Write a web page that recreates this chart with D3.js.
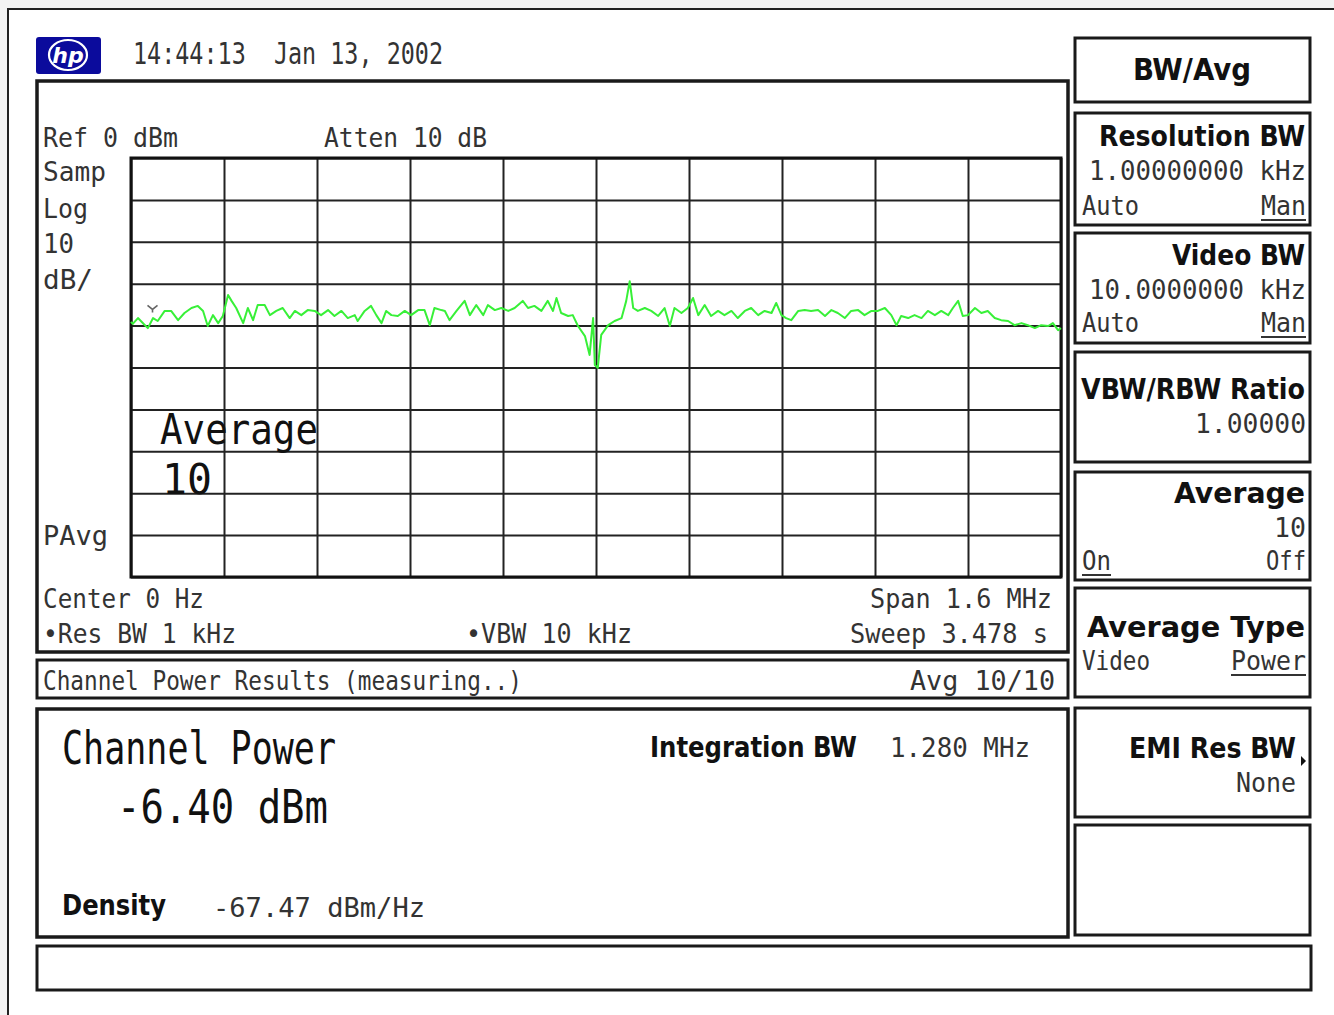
<!DOCTYPE html>
<html><head><meta charset="utf-8">
<script src="https://cdn.jsdelivr.net/npm/d3@7"></script>
<style>
html,body{margin:0;padding:0;background:#f3f3f3;}
svg{display:block;}
text{white-space:pre;}
</style></head>
<body>
<svg id="c" width="1334" height="1015"></svg>
<script>
// ---------- data ----------
const spanKHz = [-800, 800];          // Center 0 Hz, Span 1.6 MHz
const refLevelDbm = [-100, 0];        // Ref 0 dBm, 10 dB/div
const xGridKHz = [-800,-640,-480,-320,-160,0,160,320,480,640,800];
const yGridDbm = [0,-10,-20,-30,-40,-50,-60,-70,-80,-90,-100];
const traceFreqKHz = [-800,-797,-788,-776,-771,-762,-754,-742,-731,-719,-708,-696,-685,-676,-668,-659,-650,-642,-633,-627,-619,-607,-599,-590,-582,-570,-561,-550,-539,-527,-518,-507,-496,-484,-473,-461,-450,-438,-427,-415,-410,-398,-387,-378,-369,-361,-352,-341,-329,-318,-306,-295,-286,-278,-266,-260,-252,-240,-226,-217,-206,-194,-186,-174,-163,-151,-140,-126,-117,-106,-94,-83,-74,-68,-60,-48,-40,-31,-19,-11,-5,-2,3,9,21,32,44,52,58,64,72,84,95,107,118,127,135,147,158,167,176,187,198,210,221,233,244,256,267,279,290,302,310,319,327,336,348,359,370,382,394,405,416,428,439,451,462,474,485,497,508,517,525,537,548,560,571,583,594,606,614,623,631,640,652,663,674,686,697,709,720,732,743,755,766,778,786,795,800];
const traceLevelDbm = [-39.1,-39.6,-38.2,-39.9,-40.6,-38.2,-38.9,-36.5,-36.5,-38.7,-37.0,-35.8,-35.3,-36.5,-40.1,-37.5,-39.4,-37.7,-32.7,-34.1,-35.8,-39.4,-35.8,-38.7,-35.1,-35.1,-37.5,-36.5,-35.8,-38.2,-36.5,-37.5,-36.3,-36.5,-37.5,-36.3,-37.7,-36.5,-38.2,-37.5,-38.9,-36.5,-35.3,-37.5,-39.4,-36.5,-37.5,-37.7,-36.5,-37.5,-36.3,-36.3,-39.9,-35.8,-36.3,-36.5,-38.7,-36.5,-34.1,-37.5,-35.1,-37.5,-35.1,-36.3,-35.8,-36.5,-35.8,-34.1,-35.8,-35.3,-36.5,-34.1,-36.5,-33.4,-37.0,-37.7,-37.5,-40.1,-42.5,-47.0,-38.2,-49.4,-50.1,-42.2,-39.9,-38.9,-38.2,-34.1,-29.4,-35.8,-36.5,-35.8,-36.5,-37.7,-35.8,-40.1,-35.8,-37.0,-35.8,-33.4,-37.5,-35.1,-37.7,-36.5,-37.5,-36.5,-38.2,-36.5,-35.8,-37.5,-36.5,-37.0,-34.6,-37.5,-38.2,-38.7,-36.5,-36.3,-36.5,-36.3,-37.7,-36.3,-37.0,-38.2,-36.5,-36.3,-37.5,-36.5,-36.5,-35.8,-37.5,-39.9,-37.7,-38.2,-37.5,-38.2,-36.5,-37.5,-36.5,-37.5,-35.8,-34.1,-37.7,-37.5,-35.8,-37.0,-36.5,-38.2,-38.7,-38.9,-39.9,-39.4,-39.9,-40.6,-39.9,-40.1,-39.4,-41.1,-40.6];
const markerKHz = -763, markerDbm = -35.9;

const headerText = "14:44:13  Jan 13, 2002";
const leftLabels = ["Ref 0 dBm","Samp","Log","10","dB/","PAvg"];
const attenLabel = "Atten 10 dB";
const averageLabels = ["Average","10"];
const footerLeft = ["Center 0 Hz","\u2022Res BW 1 kHz"];
const footerMid = "\u2022VBW 10 kHz";
const footerRight = ["Span 1.6 MHz","Sweep 3.478 s"];
const resultsTitle = "Channel Power Results (measuring..)";
const resultsAvg = "Avg 10/10";
const channelPower = ["Channel Power","-6.40 dBm"];
const integration = ["Integration BW","1.280 MHz"];
const density = ["Density","-67.47 dBm/Hz"];
const softkeys = ["BW/Avg","Resolution BW","1.00000000 kHz","Video BW","10.0000000 kHz","VBW/RBW Ratio","1.00000","Average","10","Average Type","EMI Res BW","None"];

// ---------- drawing ----------
const svg = d3.select("#c");
const MONO = "'DejaVu Sans Mono','Liberation Mono',monospace";
const SANS = "'DejaVu Sans Condensed','DejaVu Sans','Liberation Sans',sans-serif";

function txt(x, y, s, o) {
  o = o || {};
  const t = svg.append("text").attr("x", x).attr("y", y).text(s)
    .attr("font-family", o.bold ? SANS : MONO)
    .attr("font-size", o.size || 27)
    .attr("font-weight", o.bold ? "bold" : "normal")
    .attr("fill", o.fill || (o.bold ? "#111" : "#333"))
    .attr("text-anchor", o.anchor || "start");
  if (o.len) t.attr("textLength", o.len).attr("lengthAdjust", "spacingAndGlyphs");
  if (o.underline) {
    let x0 = x, x1 = x + o.len;
    if (o.anchor === "end") { x0 = x - o.len; x1 = x; }
    svg.append("line").attr("x1", x0).attr("x2", x1).attr("y1", y + 5).attr("y2", y + 5)
      .attr("stroke", "#333").attr("stroke-width", 2);
  }
  return t;
}
function box(x0, y0, x1, y1, w) {
  svg.append("rect").attr("x", x0).attr("y", y0).attr("width", x1 - x0).attr("height", y1 - y0)
    .attr("fill", "#fff").attr("stroke", "#1a1a1a").attr("stroke-width", w || 3);
}

// outer instrument frame
svg.append("rect").attr("x", 8).attr("y", 9).attr("width", 1340).attr("height", 1020)
  .attr("fill", "#fff").attr("stroke", "#222").attr("stroke-width", 2);

// hp logo
svg.append("rect").attr("x", 36).attr("y", 37).attr("width", 65).attr("height", 37).attr("rx", 3).attr("fill", "#0b0b9c");
svg.append("ellipse").attr("cx", 68).attr("cy", 55).attr("rx", 19).attr("ry", 15)
  .attr("fill", "none").attr("stroke", "#fff").attr("stroke-width", 2.2);
svg.append("text").attr("x", 68).attr("y", 63).attr("text-anchor", "middle")
  .attr("font-family", "'DejaVu Sans',sans-serif").attr("font-style", "italic").attr("font-weight", "bold")
  .attr("font-size", 22).attr("fill", "#fff").text("hp");

txt(133, 64, headerText, {size: 30, len: 310});

// main display panels
box(37, 81, 1068, 652, 3.5);
box(37, 660, 1068, 698, 3);
box(37, 709, 1068, 937, 3.5);
box(37, 946, 1311, 990, 3);

// plot area
const x = d3.scaleLinear().domain(spanKHz).range([131, 1061]);
const y = d3.scaleLinear().domain(refLevelDbm).range([577, 158]);

const gx = svg.append("g").attr("transform", "translate(0,577)")
  .call(d3.axisBottom(x).tickValues(xGridKHz).tickSize(-(577 - 158)).tickFormat(""));
const gy = svg.append("g").attr("transform", "translate(131,0)")
  .call(d3.axisLeft(y).tickValues(yGridDbm).tickSize(-(1061 - 131)).tickFormat(""));
[gx, gy].forEach(g => {
  g.select(".domain").remove();
  g.selectAll(".tick line").attr("stroke", "#222").attr("stroke-width", 2);
});
svg.append("rect").attr("x", 131).attr("y", 158).attr("width", 930).attr("height", 419)
  .attr("fill", "none").attr("stroke", "#111").attr("stroke-width", 3);

// trace
const pts = traceFreqKHz.map((f, i) => [f, traceLevelDbm[i]]);
svg.append("path").datum(pts)
  .attr("d", d3.line().x(d => x(d[0])).y(d => y(d[1])))
  .attr("fill", "none").attr("stroke", "#38f038").attr("stroke-width", 2).attr("stroke-linejoin", "round");

// marker symbol
const mx = x(markerKHz), my = y(markerDbm);
svg.append("path")
  .attr("d", `M${mx - 5},${my - 3} L${mx},${my + 1} L${mx + 5},${my - 3} M${mx},${my + 1} L${mx},${my + 4}`)
  .attr("fill", "none").attr("stroke", "#666").attr("stroke-width", 1.6);

// left annotations
txt(43, 147, leftLabels[0], {len: 135});
txt(324, 147, attenLabel, {len: 163});
txt(43, 181, leftLabels[1], {len: 63});
txt(43, 218, leftLabels[2], {len: 45});
txt(43, 253, leftLabels[3], {len: 31});
txt(43, 289, leftLabels[4], {len: 50});
txt(43, 545, leftLabels[5], {len: 65});

txt(160, 444, averageLabels[0], {size: 42, len: 158, fill: "#111"});
txt(162, 494, averageLabels[1], {size: 42, len: 50, fill: "#111"});

txt(43, 608, footerLeft[0], {len: 161});
txt(43, 643, footerLeft[1], {len: 193});
txt(466, 643, footerMid, {len: 166});
txt(1052, 608, footerRight[0], {anchor: "end", len: 182});
txt(1048, 643, footerRight[1], {anchor: "end", len: 198});

txt(43, 690, resultsTitle, {len: 479});
txt(1055, 690, resultsAvg, {anchor: "end", len: 145});

txt(62, 764, channelPower[0], {size: 46, len: 274, fill: "#111"});
txt(117, 823, channelPower[1], {size: 46, len: 211, fill: "#111"});
txt(650, 757, integration[0], {bold: true, size: 28, len: 207});
txt(890, 757, integration[1], {len: 140});
txt(62, 915, density[0], {bold: true, size: 28, len: 104});
txt(213, 917, density[1], {len: 212});

// softkey panel
box(1075, 38, 1310, 102);
box(1075, 113, 1310, 225);
box(1075, 233, 1310, 343);
box(1075, 352, 1310, 462);
box(1075, 472, 1310, 580);
box(1075, 588, 1310, 697);
box(1075, 708, 1310, 817);
box(1075, 825, 1310, 935);

txt(1192, 80, softkeys[0], {bold: true, size: 31, anchor: "middle", len: 118});
txt(1305, 146, softkeys[1], {bold: true, size: 29, anchor: "end", len: 206});
txt(1306, 180, softkeys[2], {anchor: "end", len: 217});
txt(1082, 215, "Auto", {len: 57});
txt(1306, 215, "Man", {anchor: "end", len: 45, underline: true});
txt(1305, 265, softkeys[3], {bold: true, size: 29, anchor: "end", len: 133});
txt(1306, 299, softkeys[4], {anchor: "end", len: 217});
txt(1082, 332, "Auto", {len: 57});
txt(1306, 332, "Man", {anchor: "end", len: 45, underline: true});
txt(1305, 399, softkeys[5], {bold: true, size: 29, anchor: "end", len: 224});
txt(1306, 433, softkeys[6], {anchor: "end", len: 111});
txt(1305, 503, softkeys[7], {bold: true, size: 29, anchor: "end", len: 131});
txt(1306, 537, softkeys[8], {anchor: "end", len: 32});
txt(1082, 570, "On", {len: 29, underline: true});
txt(1306, 570, "Off", {anchor: "end", len: 40});
txt(1305, 637, softkeys[9], {bold: true, size: 29, anchor: "end", len: 218});
txt(1082, 670, "Video", {len: 68});
txt(1306, 670, "Power", {anchor: "end", len: 75, underline: true});
txt(1296, 758, softkeys[10], {bold: true, size: 28, anchor: "end", len: 167});
txt(1296, 792, softkeys[11], {anchor: "end", len: 60});
svg.append("path").attr("d", "M1301,756 L1306,761 L1301,766 Z").attr("fill", "#111");
</script>
</body></html>
